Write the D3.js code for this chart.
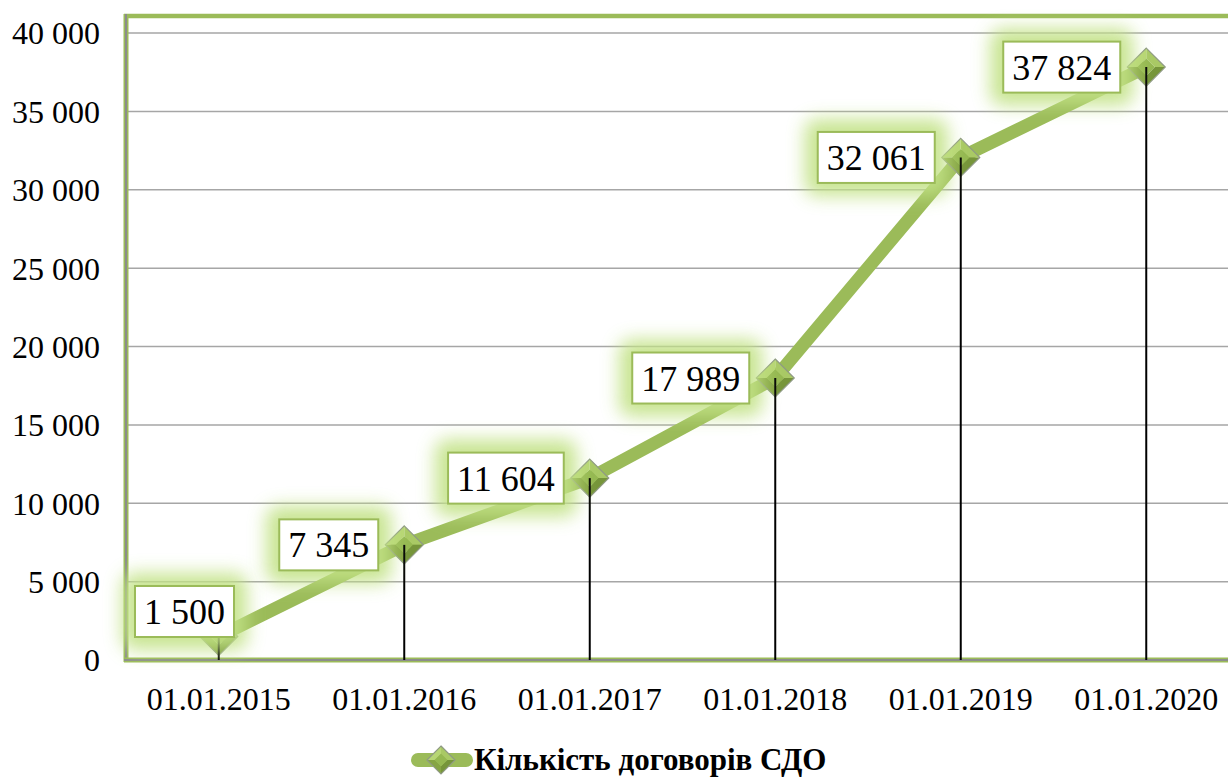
<!DOCTYPE html>
<html>
<head>
<meta charset="utf-8">
<script src="https://cdn.jsdelivr.net/npm/d3@7"></script>
<style>
  html, body { margin: 0; padding: 0; background: #fff; }
  svg, svg text { font-family: "Liberation Serif", "DejaVu Serif", serif !important; }
</style>
</head>
<body>
<svg id="chart" width="1228" height="778"></svg>
<script>
// Contract counts by reporting date
const categories = ["01.01.2015", "01.01.2016", "01.01.2017", "01.01.2018", "01.01.2019", "01.01.2020"];
const values = [1500, 7345, 11604, 17989, 32061, 37824];
const yTicks = [0, 5000, 10000, 15000, 20000, 25000, 30000, 35000, 40000];
const seriesName = "Кількість договорів СДО";

const W = 1228, H = 778;
const plot = { left: 126, right: 1239, top: 16, bottom: 660 };
const green = "#9bbb59";

const svg = d3.select("#chart");
const defs = svg.append("defs");

const glow = defs.append("filter").attr("id", "glow")
  .attr("x", "-50%").attr("y", "-50%").attr("width", "200%").attr("height", "200%");
glow.append("feGaussianBlur").attr("stdDeviation", 9);

const x = d3.scaleBand().domain(categories).range([plot.left, plot.right]);
const y = d3.scaleLinear().domain([0, 40000]).range([plot.bottom, 33]);
const fmt = v => d3.format(",")(v).replace(/,/g, " ");
const cx = d => x(d) + x.bandwidth() / 2;

// horizontal gridlines
svg.append("g").selectAll("line").data(yTicks.slice(1)).join("line")
  .attr("x1", plot.left).attr("x2", W)
  .attr("y1", d => y(d)).attr("y2", d => y(d))
  .attr("stroke", "#a6a6a6").attr("stroke-width", 1.5);

// plot frame: green top edge, grey/green left and bottom axis
svg.append("line").attr("x1", plot.left - 2).attr("x2", W).attr("y1", plot.top).attr("y2", plot.top)
  .attr("stroke", green).attr("stroke-width", 4.5);
[[plot.left, plot.top - 2, plot.left, plot.bottom + 2], [plot.left - 2, plot.bottom, W, plot.bottom]].forEach(c => {
  svg.append("line").attr("x1", c[0]).attr("y1", c[1]).attr("x2", c[2]).attr("y2", c[3])
    .attr("stroke", green).attr("stroke-width", 5);
  svg.append("line").attr("x1", c[0]).attr("y1", c[1]).attr("x2", c[2]).attr("y2", c[3])
    .attr("stroke", "#8c8c8c").attr("stroke-width", 2);
});

// y axis labels
const yAxis = d3.axisLeft(y).tickValues(yTicks).tickFormat(fmt).tickSize(0).tickPadding(0);
const gy = svg.append("g").attr("transform", `translate(${plot.left - 26},0)`).call(yAxis);
gy.attr("font-family", null).attr("font-size", null);
gy.select(".domain").remove();
gy.selectAll("text").attr("font-size", 32).attr("fill", "#000").attr("dy", "0.34em");

// x axis labels
const xAxis = d3.axisBottom(x).tickSize(0).tickPadding(0);
const gx = svg.append("g").attr("transform", `translate(0,${plot.bottom + 27})`).call(xAxis);
gx.attr("font-family", null).attr("font-size", null);
gx.select(".domain").remove();
gx.selectAll("text").attr("font-size", 32).attr("fill", "#000").attr("dy", "0.71em");

// series line
const line = d3.line().x((d, i) => cx(categories[i])).y(d => y(d));
svg.append("path").datum(values).attr("d", line)
  .attr("fill", "none").attr("stroke", green).attr("stroke-width", 13).attr("stroke-linejoin", "round");

// bevelled diamond marker
function diamond(g, px, py, r) {
  const t = [px, py - r], b = [px, py + r], l = [px - r, py], rr = [px + r, py];
  const ir = r * 0.45;
  const it = [px, py - ir], ib = [px, py + ir], il = [px - ir, py], irr = [px + ir, py];
  const facets = [
    [[t, rr, irr, it], "#a9c965"],
    [[t, l, il, it], "#b7d674"],
    [[l, b, ib, il], "#86a544"],
    [[rr, b, ib, irr], "#76953a"],
    [[it, irr, ib, il], "#95b851"]
  ];
  facets.forEach(([pts, col]) => {
    g.append("polygon").attr("points", pts.map(p => p.join(",")).join(" ")).attr("fill", col);
  });
  g.append("polygon").attr("points", [t, rr, b, l].map(p => p.join(",")).join(" "))
    .attr("fill", "none").attr("stroke", "#8f9a84").attr("stroke-width", 1.2);
}

const markers = svg.append("g");
values.forEach((v, i) => diamond(markers, cx(categories[i]), y(v), 19));

// drop lines from each point to the axis
svg.append("g").selectAll("line").data(values).join("line")
  .attr("x1", (d, i) => cx(categories[i])).attr("x2", (d, i) => cx(categories[i]))
  .attr("y1", d => y(d)).attr("y2", plot.bottom)
  .attr("stroke", "#000").attr("stroke-width", 2);

// data labels: white boxes with a soft green glow, left of each point,
// kept inside the plot area
const labelSize = 36, padX = 9, boxH = 51;
const labels = svg.append("g");
values.forEach((v, i) => {
  const px = cx(categories[i]), py = y(v);
  const t = labels.append("text").text(fmt(v)).attr("font-size", labelSize).attr("fill", "#000");
  const tw = t.node().getComputedTextLength();
  const bw = tw + padX * 2;
  let bx = Math.max(px - 26 - bw, plot.left + 9);
  let by = Math.min(py - boxH / 2, plot.bottom - 23 - boxH);
  labels.insert("rect", "text").attr("x", bx - 13).attr("y", by - 13).attr("width", bw + 26).attr("height", boxH + 26)
    .attr("rx", 12).attr("fill", "#c2e286").attr("opacity", 0.9).attr("filter", "url(#glow)");
  labels.insert("rect", "text").attr("x", bx).attr("y", by).attr("width", bw).attr("height", boxH)
    .attr("fill", "#fff").attr("stroke", green).attr("stroke-width", 2);
  t.attr("x", bx + padX).attr("y", by + boxH / 2).attr("dy", "0.35em");
});

// legend
const lg = svg.append("g");
const ly = 760;
lg.append("line").attr("x1", 418).attr("x2", 466).attr("y1", ly).attr("y2", ly)
  .attr("stroke", green).attr("stroke-width", 14).attr("stroke-linecap", "round");
diamond(lg, 441, ly, 14);
lg.append("text").text(seriesName).attr("x", 474).attr("y", ly).attr("dy", "0.33em")
  .attr("font-weight", "bold").attr("font-size", 31).attr("fill", "#000");
</script>
</body>
</html>
